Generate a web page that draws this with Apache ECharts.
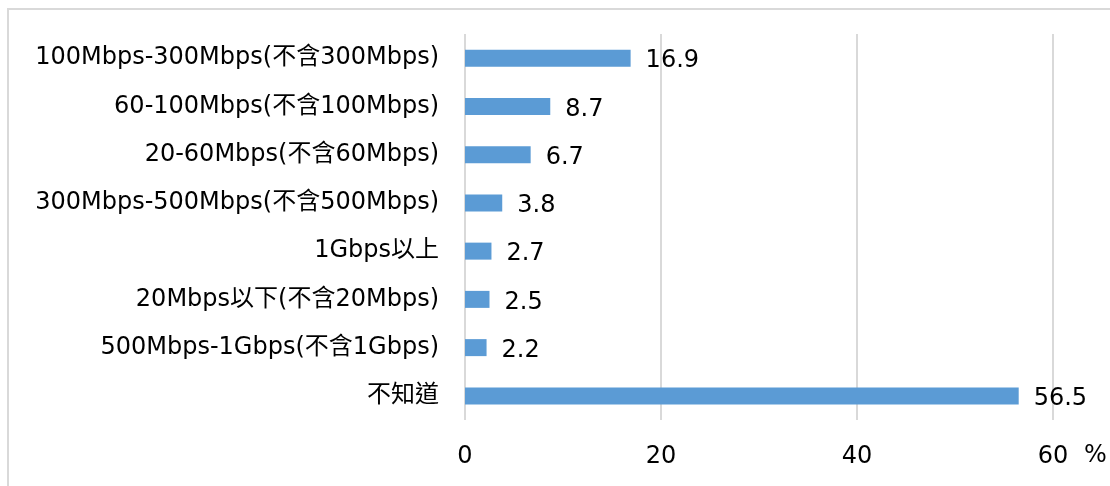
<!DOCTYPE html>
<html>
<head>
<meta charset="utf-8">
<script src="https://cdn.jsdelivr.net/npm/echarts@6/dist/echarts.min.js"></script>
<style>
  html, body { margin: 0; padding: 0; background: #fff; }
  #main { width: 1110px; height: 486px; }
</style>
</head>
<body>
<div id="main"></div>
<script>
// categories listed top to bottom
var categories = [
    '100Mbps-300Mbps(不含300Mbps)',
    '60-100Mbps(不含100Mbps)',
    '20-60Mbps(不含60Mbps)',
    '300Mbps-500Mbps(不含500Mbps)',
    '1Gbps以上',
    '20Mbps以下(不含20Mbps)',
    '500Mbps-1Gbps(不含1Gbps)',
    '不知道'
];
var values = [16.9, 8.7, 6.7, 3.8, 2.7, 2.5, 2.2, 56.5];
var xTicks = [0, 20, 40, 60];

var font = 'DejaVu Sans, Noto Sans CJK TC, sans-serif';

var chart = echarts.init(document.getElementById('main'));
chart.setOption({
    animation: false,
    grid: {
        left: 465, right: 57, top: 34, bottom: 66,
        containLabel: false,
        outerBoundsMode: 'none'
    },
    xAxis: {
        type: 'value',
        min: xTicks[0],
        max: xTicks[xTicks.length - 1],
        interval: xTicks[1] - xTicks[0],
        axisLine: { show: false },
        axisTick: { show: false },
        axisLabel: { color: '#000', fontSize: 24, fontFamily: font, margin: 25 },
        splitLine: { lineStyle: { color: '#d9d9d9', width: 2 } }
    },
    yAxis: {
        type: 'category',
        inverse: true,
        data: categories,
        axisLine: { show: false },
        axisTick: { show: false },
        axisLabel: { color: '#000', fontSize: 24, fontFamily: font, margin: 26 }
    },
    series: [{
        type: 'bar',
        data: values,
        barWidth: 17,
        itemStyle: { color: '#5b9bd5' },
        label: {
            show: true,
            position: 'right',
            distance: 15,
            offset: [0, 3],
            color: '#000',
            fontSize: 24,
            fontFamily: font
        }
    }],
    graphic: [
        {
            type: 'rect',
            shape: { x: 8, y: 9, width: 1200, height: 600 },
            style: { fill: 'none', stroke: '#d9d9d9', lineWidth: 2 },
            silent: true
        },
        {
            type: 'text',
            left: 1084,
            top: 444,
            style: { text: '%', fill: '#000', fontSize: 24, fontFamily: font }
        }
    ]
});
</script>
</body>
</html>
